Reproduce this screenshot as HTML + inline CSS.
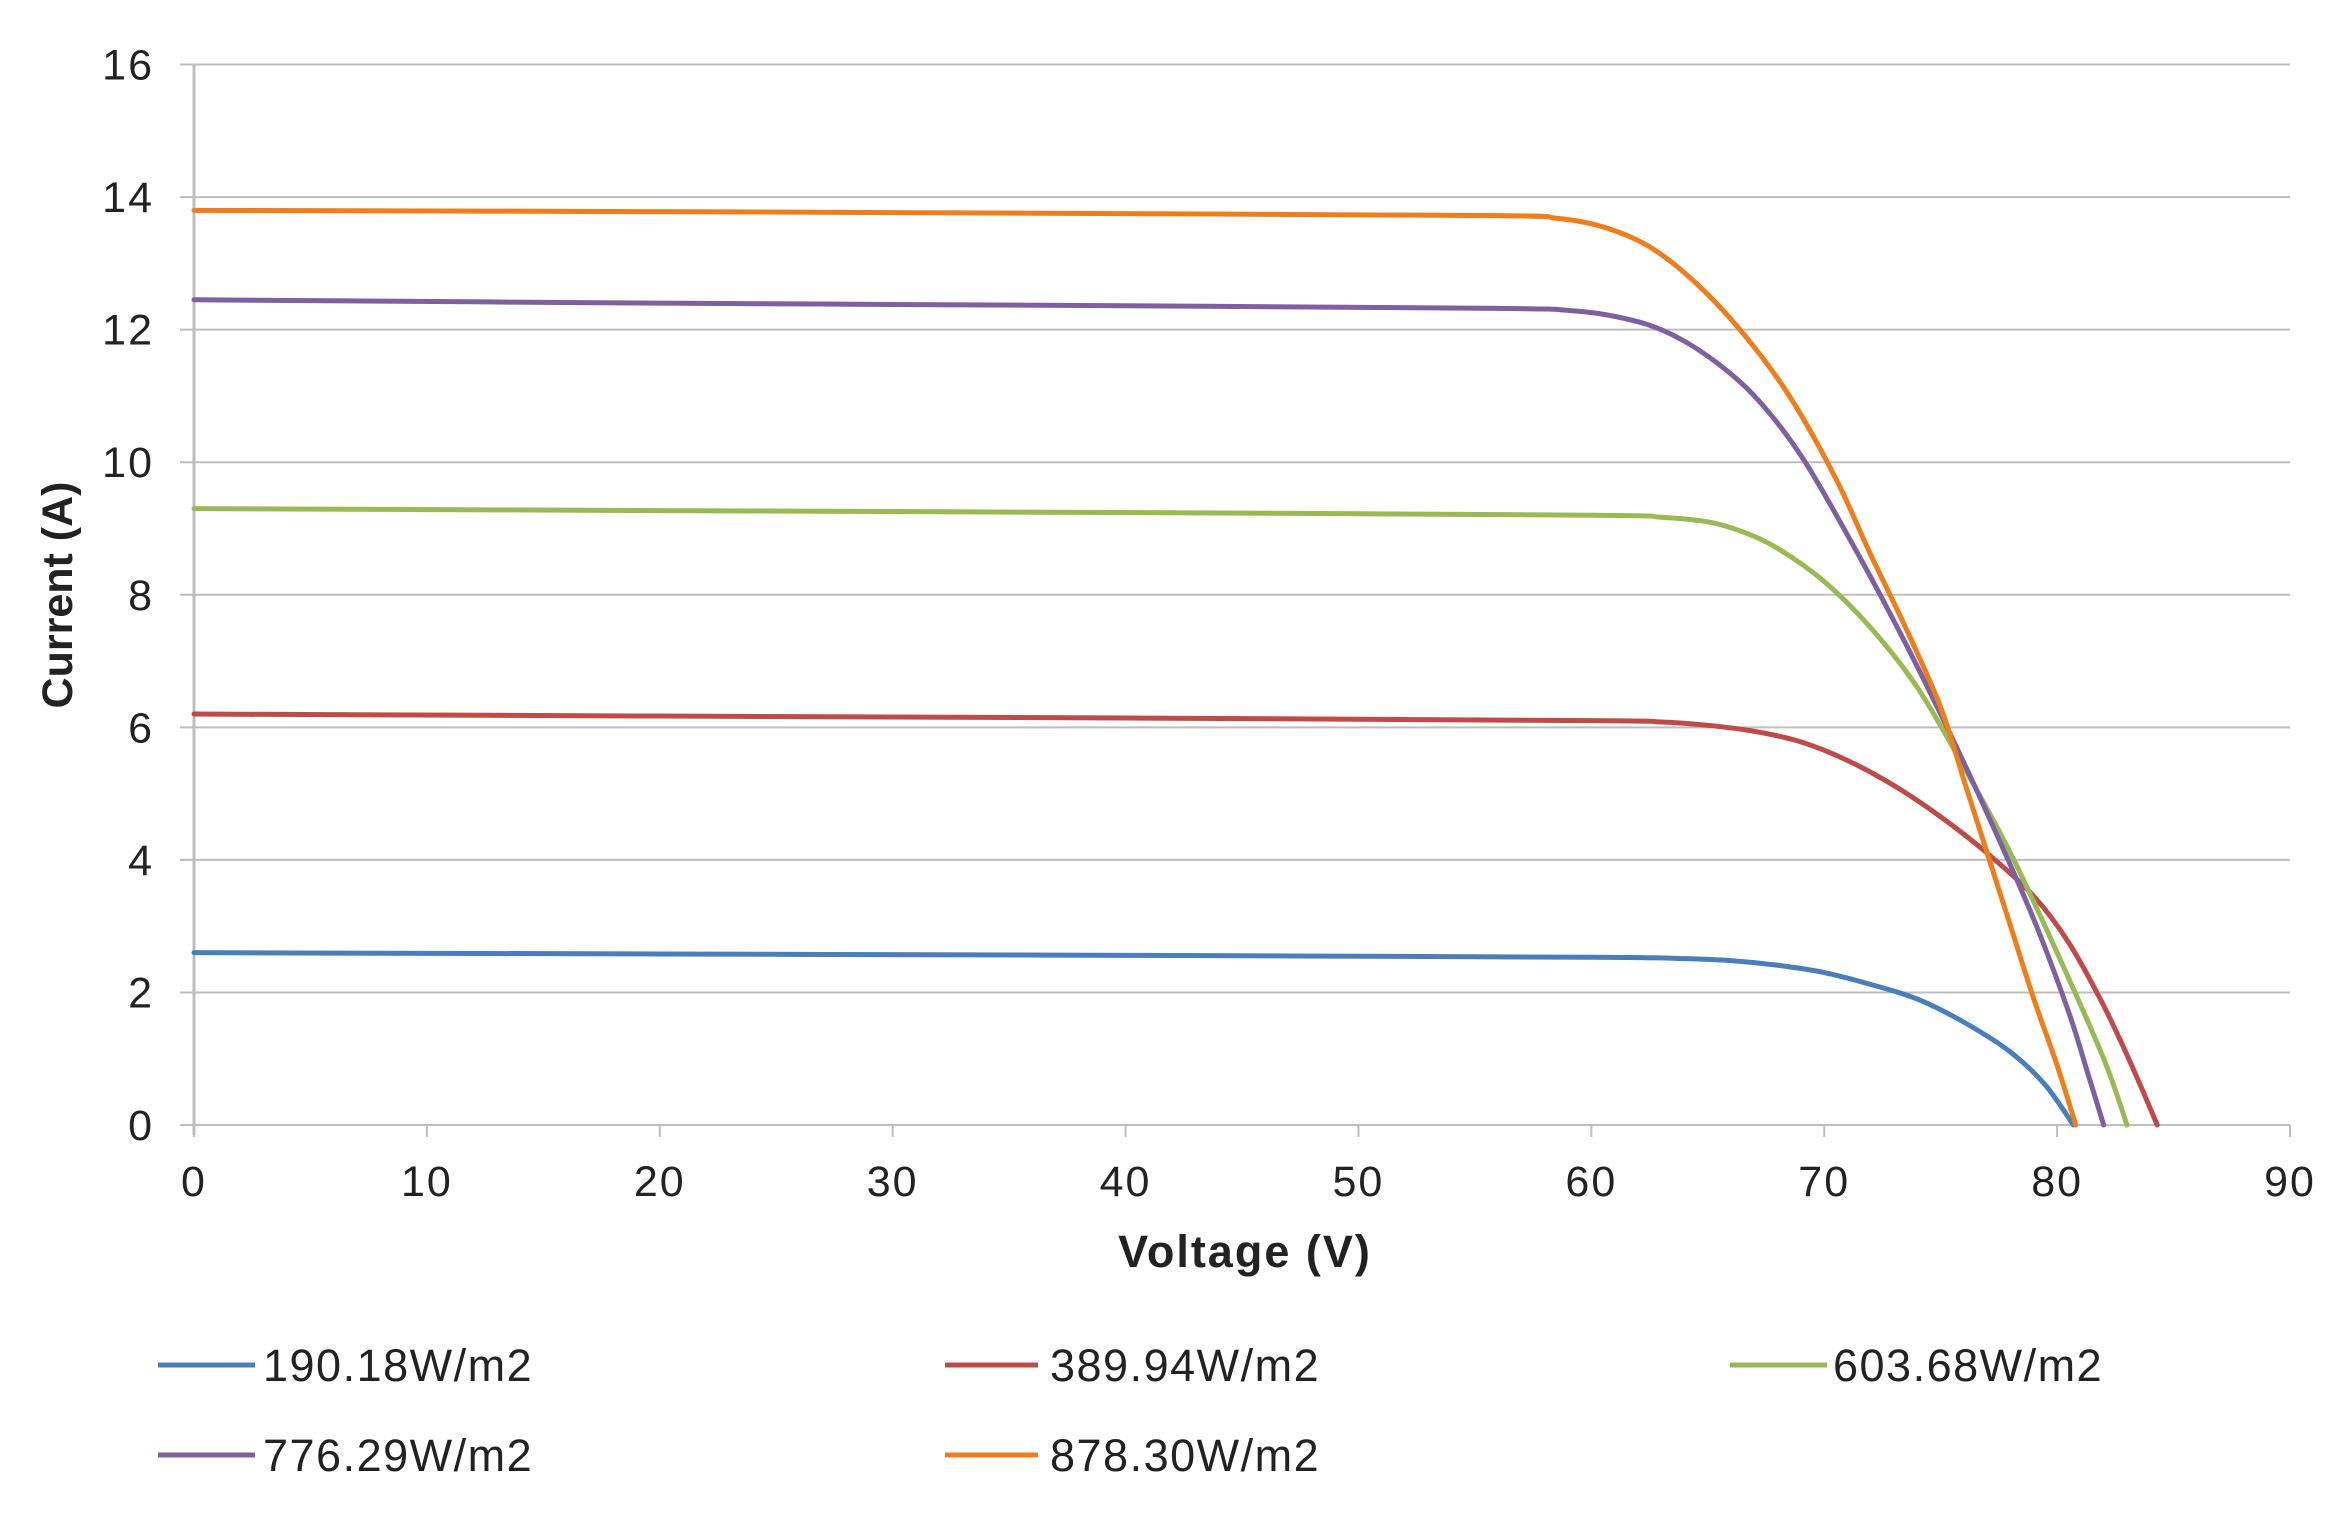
<!DOCTYPE html>
<html><head><meta charset="utf-8"><style>
html,body{margin:0;padding:0;background:#fff;}
svg{display:block;}
text{font-family:"Liberation Sans",sans-serif;fill:#222;}
</style></head><body>
<svg id="s" width="2350" height="1513" xmlns="http://www.w3.org/2000/svg">
<g id="grid"></g>
<g id="curves" fill="none" stroke-width="5" stroke-linejoin="round" stroke-linecap="round"></g>
<text x="1245" y="1267" font-size="45" font-weight="bold" text-anchor="middle" letter-spacing="2">Voltage (V)</text>
<text transform="translate(72,595) rotate(-90)" font-size="43" font-weight="bold" text-anchor="middle">Current (A)</text>
<g stroke-width="5">
<line x1="158" y1="1365" x2="255" y2="1365" stroke="#4a7ebb"/>
<line x1="945" y1="1365" x2="1038" y2="1365" stroke="#be4b48"/>
<line x1="1730" y1="1365" x2="1827" y2="1365" stroke="#98b954"/>
<line x1="158" y1="1455" x2="255" y2="1455" stroke="#7d60a0"/>
<line x1="945" y1="1455" x2="1038" y2="1455" stroke="#ee7d1a"/>
</g>
<g font-size="45" letter-spacing="1.5">
<text x="263" y="1381">190.18W/m2</text>
<text x="1050" y="1381">389.94W/m2</text>
<text x="1833" y="1381">603.68W/m2</text>
<text x="263" y="1471">776.29W/m2</text>
<text x="1050" y="1471">878.30W/m2</text>
</g>
</svg>
<script>
var X0=194,XS=(2290-194)/90,Y0=1125,YS=(1125-64.5)/16;
function px(v){return X0+v*XS} function py(i){return Y0-i*YS}
var ns="http://www.w3.org/2000/svg",g=document.getElementById('grid');
function el(p,tag,a){var e=document.createElementNS(ns,tag);for(var k in a)e.setAttribute(k,a[k]);p.appendChild(e);return e;}
for(var i=0;i<=16;i+=2){el(g,'line',{x1:180,x2:2290,y1:py(i),y2:py(i),stroke:'#bdbdbd','stroke-width':2});
var t=el(g,'text',{x:154,y:py(i)+15,'font-size':43,'text-anchor':'end','letter-spacing':2});t.textContent=i;}
el(g,'line',{x1:X0,x2:X0,y1:py(16),y2:Y0+10,stroke:'#bdbdbd','stroke-width':3});
for(var v=0;v<=90;v+=10){el(g,'line',{x1:px(v),x2:px(v),y1:Y0,y2:Y0+12,stroke:'#bdbdbd','stroke-width':2});
var t=el(g,'text',{x:px(v),y:1196,'font-size':43,'text-anchor':'middle','letter-spacing':2});t.textContent=v;}
var D=[
['#4a7ebb',[[0,2.6],[20,2.58],[40,2.56],[60,2.53],[64,2.51],[66,2.48],[68,2.41],[70,2.3],[72,2.12],[74,1.9],[76,1.55],[78,1.1],[79.5,0.6],[80.7,0]]],
['#be4b48',[[0,6.2],[20,6.17],[40,6.14],[60,6.1],[63,6.08],[65,6.03],[67,5.94],[69,5.78],[71,5.5],[73,5.12],[75,4.65],[77,4.1],[79,3.45],[80.5,2.75],[82,1.8],[83.2,0.9],[84.3,0]]],
['#98b954',[[0,9.3],[20,9.27],[40,9.24],[60,9.2],[63,9.17],[65,9.1],[66.5,8.95],[68,8.7],[70,8.2],[72,7.5],[74,6.6],[76,5.4],[78,4.1],[80,2.6],[82,1.0],[83,0]]],
['#7d60a0',[[0,12.45],[20,12.4],[40,12.36],[56,12.32],[59,12.29],[61,12.2],[63,12.0],[65,11.6],[67,11.0],[69,10.1],[71,8.9],[73,7.6],[75,6.2],[77,4.7],[79,3.1],[80.5,1.7],[81.3,0.8],[82,0]]],
['#ee7d1a',[[0,13.8],[20,13.78],[40,13.75],[56,13.72],[58.5,13.68],[60.5,13.55],[62.5,13.25],[64.5,12.7],[66.5,11.95],[68.5,11.0],[70.5,9.75],[72,8.6],[73.5,7.5],[75,6.3],[76,5.2],[77,4.1],[78,3.0],[79,1.9],[80,0.9],[80.8,0]]]];
var c=document.getElementById('curves');
D.forEach(function(s){var p=s[1].map(function(q){return [px(q[0]),py(q[1])]});
var d='M'+p[0][0]+','+p[0][1];
for(var i=0;i<p.length-1;i++){var a=p[Math.max(i-1,0)],b=p[i],e=p[i+1],f=p[Math.min(i+2,p.length-1)];
d+=' C'+(b[0]+(e[0]-a[0])/6)+','+(b[1]+(e[1]-a[1])/6)+' '+(e[0]-(f[0]-b[0])/6)+','+(e[1]-(f[1]-b[1])/6)+' '+e[0]+','+e[1];}
el(c,'path',{d:d,stroke:s[0]});});
</script>
</body></html>
